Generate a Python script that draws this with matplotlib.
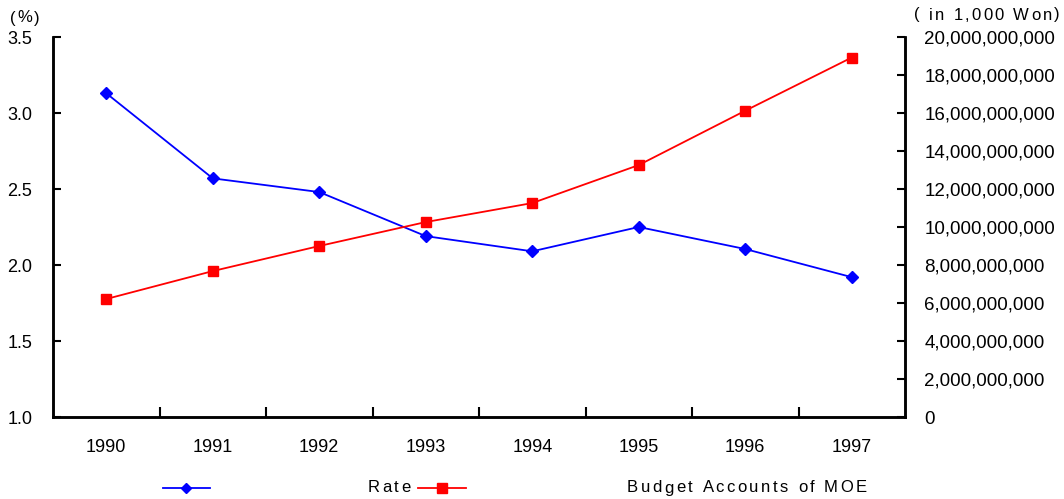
import matplotlib
matplotlib.use("Agg")
import matplotlib.pyplot as plt
from matplotlib.lines import Line2D
from matplotlib.ticker import FuncFormatter, FixedLocator
from matplotlib.font_manager import FontProperties

years = ["1990", "1991", "1992", "1993", "1994", "1995", "1996", "1997"]
rate = [3.13, 2.57, 2.48, 2.19, 2.09, 2.25, 2.105, 1.92]
budget = [6.21e9, 7.68e9, 9.0e9, 10.26e9, 11.26e9, 13.26e9, 16.12e9, 18.92e9]
rate_ticks = [1.0, 1.5, 2.0, 2.5, 3.0, 3.5]
budget_ticks = [0, 2e9, 4e9, 6e9, 8e9, 10e9, 12e9, 14e9, 16e9, 18e9, 20e9]

plt.rcParams['font.family'] = ['Liberation Sans', 'DejaVu Sans']

W, H = 1064, 499
fig = plt.figure(figsize=(W / 100, H / 100), dpi=100)
ax = fig.add_axes([53 / W, 1 - 417 / H, (905 - 53) / W, (417 - 37) / H])
ax2 = ax.twinx()

x = list(range(len(years)))
ax.plot(x, rate, color='#0000ff', lw=1.3, marker='D', ms=6.5, zorder=3)
ax2.plot(x, budget, color='#ff0000', lw=1.3, marker='s', ms=7, zorder=3)

ax.set_xlim(-0.5, len(years) - 0.5)
ax.set_ylim(1.0, 3.5)
ax2.set_ylim(0, 20e9)
ax.set_yticks(rate_ticks)
ax.set_yticklabels([f"{v:.1f}" for v in rate_ticks])
ax2.set_yticks(budget_ticks)
ax2.yaxis.set_major_formatter(FuncFormatter(lambda v, p: f"{int(v):,}"))

ax.set_xticks(x)
ax.set_xticklabels(years)
ax.xaxis.set_minor_locator(FixedLocator([i + 0.5 for i in range(len(years) - 1)]))
ax.tick_params(axis='x', which='major', length=0, pad=16, labelsize=13)
ax.tick_params(axis='x', which='minor', direction='in', length=7, width=1.5)
ax.tick_params(axis='y', direction='in', length=6, width=1.5, pad=15, labelsize=13)
ax2.tick_params(axis='y', direction='in', length=6, width=1.5, pad=14, labelsize=13.5)

for a in (ax, ax2):
    a.spines['top'].set_visible(False)
    for s in ('left', 'right', 'bottom'):
        a.spines[s].set_linewidth(1.8)

renderer = fig.canvas.get_renderer()
fp = FontProperties(family=['Liberation Sans', 'DejaVu Sans'], size=12)


def spaced_text(x0, x1, y, s):
    """Draw s spread between pixel x0 and x1 (letter-spaced)."""
    widths = [renderer.get_text_width_height_descent(s[:i], fp, ismath=False)[0] if i else 0
              for i in range(len(s) + 1)]
    total = widths[-1]
    extra = (x1 - x0 - total) / max(len(s) - 1, 1)
    for i, ch in enumerate(s):
        if ch == ' ':
            continue
        px = x0 + widths[i] + i * extra
        fig.text(px / W, 1 - y / H, ch, fontproperties=fp, va='center', ha='left')


spaced_text(10, 40, 18, "(%)")
spaced_text(914, 1060, 15, "( in 1,000 Won)")

# legend
ly = 1 - 488 / H
fig.add_artist(Line2D([163 / W, 210 / W], [ly, ly], color='#0000ff', lw=1.3,
                      transform=fig.transFigure))
fig.add_artist(Line2D([186 / W], [ly], color='#0000ff', marker='D', ms=5.5,
                      transform=fig.transFigure))
spaced_text(368, 410, 488, "Rate")
fig.add_artist(Line2D([418 / W, 466 / W], [ly, ly], color='#ff0000', lw=1.3,
                      transform=fig.transFigure))
fig.add_artist(Line2D([442 / W], [ly], color='#ff0000', marker='s', ms=6.5,
                      transform=fig.transFigure))
spaced_text(627, 867, 488, "Budget Accounts of MOE")

fig.savefig("out.png", dpi=100)
